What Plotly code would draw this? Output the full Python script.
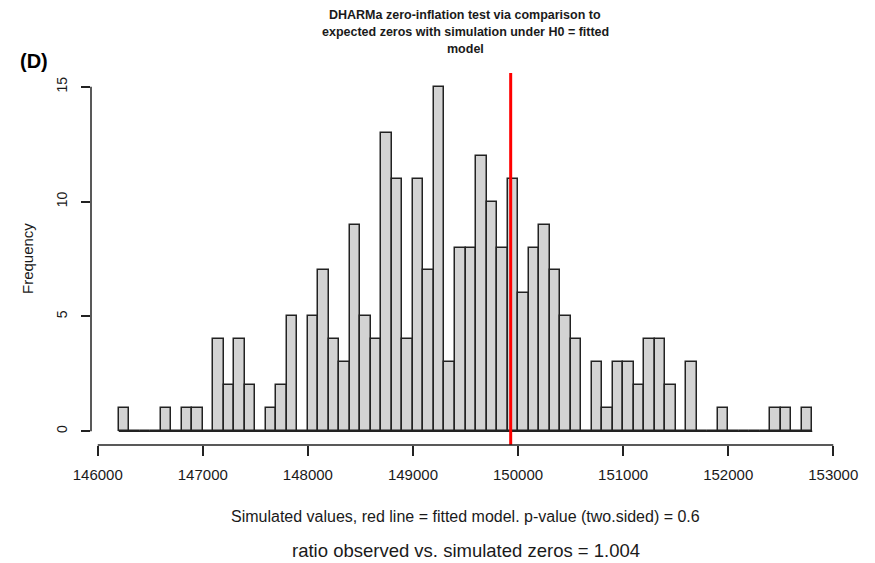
import plotly.graph_objects as go

# ---- data ----
bin_start = 146200
bin_width = 100
counts = [1, 0, 0, 0, 1, 0, 1, 1, 0, 4,
          2, 4, 2, 0, 1, 2, 5, 0, 5, 7,
          4, 3, 9, 5, 4, 13, 11, 4, 11, 7,
          15, 3, 8, 8, 12, 10, 8, 11, 6, 8,
          9, 7, 5, 4, 0, 3, 1, 3, 3, 2,
          4, 4, 2, 0, 3, 0, 0, 1, 0, 0,
          0, 0, 1, 1, 0, 1]
observed = 149930
x_ticks = [146000, 147000, 148000, 149000, 150000, 151000, 152000, 153000]
y_ticks = [0, 5, 10, 15]

title_lines = ["DHARMa zero-inflation test via comparison to",
               "expected zeros with simulation under H0 = fitted",
               "model"]
x_title = "Simulated values, red line = fitted model. p-value (two.sided) = 0.6"
y_title = "Frequency"
sub_text = "ratio observed vs. simulated zeros = 1.004"
panel_label = "(D)"

# ---- derived ----
n = len(counts)
centers = [bin_start + bin_width * (i + 0.5) for i in range(n)]
edges_lo = bin_start
edges_hi = bin_start + bin_width * n
xr = edges_hi - edges_lo
x_range = [edges_lo - 0.04 * xr, edges_hi + 0.04 * xr]
ymax = max(counts)
y_range = [-0.04 * ymax, ymax * 1.04]

W, H = 875, 563
ML, MR, MT, MB = 91, 35, 73, 118
PW, PH = W - ML - MR, H - MT - MB


def xp(px):
    return (px - ML) / PW


def yp(py):
    return (H - MB - py) / PH


FONT = "Liberation Sans, Arial, sans-serif"
TXT = "#1a1a1a"

fig = go.Figure()

# baseline under the bars (zero-height bins in R still draw a line)
fig.add_trace(go.Scatter(x=[edges_lo, edges_hi], y=[0, 0], mode="lines",
                         line=dict(color="#222222", width=1.5),
                         hoverinfo="skip", showlegend=False))

fig.add_trace(go.Bar(x=centers, y=counts, width=bin_width,
                     marker=dict(color="#d3d3d3",
                                 line=dict(color="#222222", width=1.5)),
                     showlegend=False))

# red observed line
fig.add_shape(type="line", xref="x", yref="paper", x0=observed, x1=observed,
              y0=0, y1=1, line=dict(color="#ff0000", width=3))

# R-style axis lines spanning the tick range
fig.add_shape(type="line", xref="x", yref="paper", x0=x_ticks[0], x1=x_ticks[-1],
              y0=0, y1=0, line=dict(color="#222222", width=1.5))
fig.add_shape(type="line", xref="paper", yref="y", x0=0, x1=0,
              y0=y_ticks[0], y1=y_ticks[-1], line=dict(color="#222222", width=1.5))

fig.update_layout(
    width=W, height=H,
    margin=dict(l=ML, r=MR, t=MT, b=MB, pad=0),
    paper_bgcolor="white", plot_bgcolor="white",
    bargap=0,
    font=dict(family=FONT, color=TXT),
    xaxis=dict(range=x_range, tickmode="array", tickvals=x_ticks,
               ticktext=[str(v) for v in x_ticks],
               showgrid=False, zeroline=False, showline=False,
               ticks="outside", ticklen=10, tickwidth=1.5, tickcolor="#222222",
               tickfont=dict(size=15, family=FONT, color=TXT),
               ticklabelstandoff=6),
    yaxis=dict(range=y_range, tickmode="array", tickvals=y_ticks,
               ticktext=[str(v) for v in y_ticks],
               showgrid=False, zeroline=False, showline=False,
               ticks="outside", ticklen=9, tickwidth=1.5, tickcolor="#222222",
               tickangle=-90,
               tickfont=dict(size=14, family=FONT, color=TXT),
               ticklabelstandoff=8),
)

annotations = []
for i, line in enumerate(title_lines):
    annotations.append(dict(text="<b>" + line + "</b>", xref="paper", yref="paper",
                            x=xp(465), y=yp(15 + 17 * i), xanchor="center",
                            yanchor="middle", showarrow=False,
                            font=dict(size=12.5, family=FONT, color=TXT)))
annotations.append(dict(text="<b>" + panel_label + "</b>", xref="paper", yref="paper",
                        x=xp(18), y=yp(61), xanchor="left", yanchor="middle",
                        showarrow=False, font=dict(size=20, family=FONT, color="black")))
annotations.append(dict(text=y_title, xref="paper", yref="paper",
                        x=xp(27), y=yp(259), xanchor="center", yanchor="middle",
                        textangle=-90, showarrow=False,
                        font=dict(size=15, family=FONT, color=TXT)))
annotations.append(dict(text=x_title, xref="paper", yref="paper",
                        x=xp(465), y=yp(516), xanchor="center", yanchor="middle",
                        showarrow=False, font=dict(size=16, family=FONT, color=TXT)))
annotations.append(dict(text=sub_text, xref="paper", yref="paper",
                        x=xp(466), y=yp(550), xanchor="center", yanchor="middle",
                        showarrow=False, font=dict(size=18.5, family=FONT, color=TXT)))
fig.update_layout(annotations=annotations)

fig.write_html("out.html")
